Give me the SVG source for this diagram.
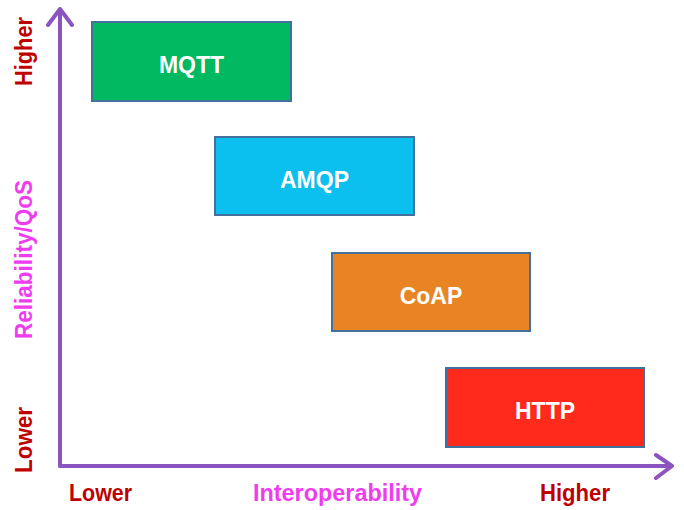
<svg xmlns="http://www.w3.org/2000/svg" width="684" height="510" viewBox="0 0 684 510">
<style>
.box{stroke:#41719c;stroke-width:2}
.bt{font-family:"Liberation Sans",Arial,sans-serif;font-weight:bold;font-size:23px;fill:#ffffff;text-anchor:middle}
.ax{fill:none;stroke:#8b55bf;stroke-width:4;stroke-linecap:round;stroke-linejoin:round}
.red{font-family:"Liberation Sans",Arial,sans-serif;font-weight:bold;font-size:23px;fill:#c00000}
.mag{font-family:"Liberation Sans",Arial,sans-serif;font-weight:bold;font-size:23px;fill:#f03cf0}
</style>
<rect width="684" height="510" fill="#ffffff"/>
<g id="axes">
<path class="ax" d="M60,466 V9 M48,25 L60,9 L72,25"/>
<path class="ax" d="M60,466 H672 M656,455 L672,466 L656,478"/>
</g>
<g id="mqtt"><rect class="box" x="92" y="22" width="199" height="79" fill="#00b960"/><text class="bt" x="191.5" y="73">MQTT</text></g>
<g id="amqp"><rect class="box" x="215" y="137" width="199" height="78" fill="#0bc0ef"/><text class="bt" x="314.5" y="188">AMQP</text></g>
<g id="coap"><rect class="box" x="332" y="253" width="198" height="78" fill="#e88424"/><text class="bt" x="431" y="304">CoAP</text></g>
<g id="http"><rect class="box" x="446" y="368" width="198" height="79" fill="#ff2a1c"/><text class="bt" x="545" y="419">HTTP</text></g>
<g id="labels">
<text class="red" transform="translate(32,86) rotate(-90)" textLength="69" lengthAdjust="spacingAndGlyphs">Higher</text>
<text class="red" transform="translate(32,473) rotate(-90)" textLength="66" lengthAdjust="spacingAndGlyphs">Lower</text>
<text class="mag" transform="translate(32,339) rotate(-90)" textLength="159" lengthAdjust="spacingAndGlyphs">Reliability/QoS</text>
<text class="red" x="69" y="501" textLength="63" lengthAdjust="spacingAndGlyphs">Lower</text>
<text class="mag" x="253" y="501" textLength="169" lengthAdjust="spacingAndGlyphs">Interoperability</text>
<text class="red" x="540" y="501" textLength="70" lengthAdjust="spacingAndGlyphs">Higher</text>
</g>
</svg>
